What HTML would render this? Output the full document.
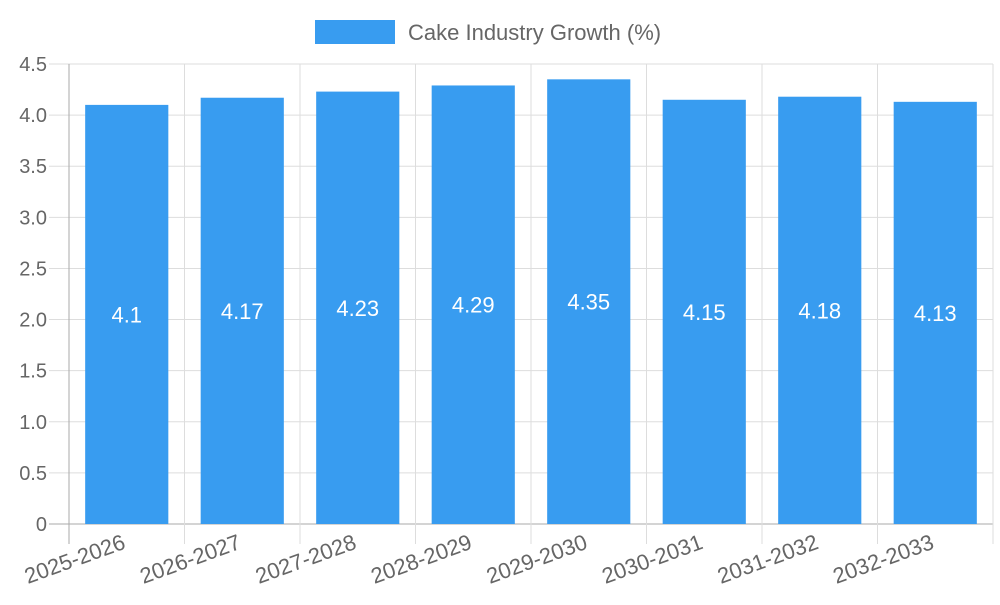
<!DOCTYPE html>
<html><head><meta charset="utf-8"><style>body{margin:0;background:#fff}svg{font-family:"Liberation Sans",sans-serif}</style></head>
<body>
<svg id="c" width="1000" height="600">
<g>
<rect x="315" y="20" width="80" height="24" fill="#389cf0"></rect>
<text x="408" y="40" font-size="22" fill="#666">Cake Industry Growth (%)</text>
</g>
</svg>
<script>
const categories=["2025-2026","2026-2027","2027-2028","2028-2029","2029-2030","2030-2031","2031-2032","2032-2033"];
const values=[4.1,4.17,4.23,4.29,4.35,4.15,4.18,4.13];
const yTicks=[0,0.5,1,1.5,2,2.5,3,3.5,4,4.5];
const yTickLabels=["0","0.5","1.0","1.5","2.0","2.5","3.0","3.5","4.0","4.5"];
const svg=document.getElementById('c');const NS='http://www.w3.org/2000/svg';
const L=69,R=993,T=64,B=524,yMax=4.5;
const bw=(R-L)/categories.length;
const y=v=>B-(v/yMax)*(B-T);const x=i=>L+i*bw;
function mk(t,a,p){const e=document.createElementNS(NS,t);for(const k in a)e.setAttribute(k,a[k]);(p||svg).appendChild(e);return e;}
yTicks.forEach((t,i)=>{
 const g=mk('line',{x1:49,x2:R,y1:y(t),y2:y(t),stroke:i==0?'#aaa':'#ddd','stroke-width':1});
 
 
 const tx=mk('text',{x:47,y:y(t)+7,'text-anchor':'end','font-size':20,fill:'#666'});tx.textContent=yTickLabels[i];
 
 
});
for(let i=0;i<=categories.length;i++){
 const g=mk('line',{x1:x(i),x2:x(i),y1:T,y2:544,stroke:i==0?'#aaa':'#ddd','stroke-width':1});
 
 
}
categories.forEach((c,i)=>{
 const cx=x(i)+bw/2,w=bw*0.72;
 const r=mk('rect',{x:cx-w/2,y:y(values[i]),width:w,height:B-y(values[i]),fill:'#389cf0'});
 
 
 const v=mk('text',{x:cx,y:(y(values[i])+B)/2+8,'text-anchor':'middle','font-size':22,fill:'#fff'});v.textContent=values[i];
 
 
 const t=mk('text',{x:cx,y:548,'text-anchor':'end','font-size':22,fill:'#666',transform:`rotate(-20 ${cx} 548)`});t.textContent=c;
 
 
});
</script>
</body></html>
